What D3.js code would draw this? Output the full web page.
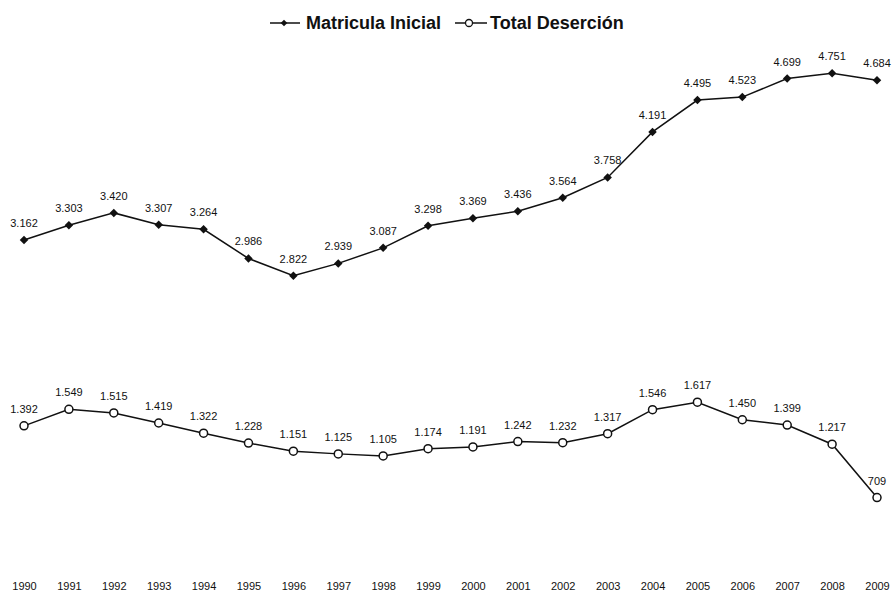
<!DOCTYPE html>
<html><head><meta charset="utf-8">
<script src="https://cdn.jsdelivr.net/npm/d3@7"></script>
<style>html,body{margin:0;padding:0;background:#fff;}svg{display:block;font-family:"Liberation Sans",Arial,sans-serif;}</style>
</head><body>
<svg id="chart" width="893" height="599"></svg>
<script>
const years = ["1990","1991","1992","1993","1994","1995","1996","1997","1998","1999","2000","2001","2002","2003","2004","2005","2006","2007","2008","2009"];
const matricula = [3162,3303,3420,3307,3264,2986,2822,2939,3087,3298,3369,3436,3564,3758,4191,4495,4523,4699,4751,4684];
const desercion = [1392,1549,1515,1419,1322,1228,1151,1125,1105,1174,1191,1242,1232,1317,1546,1617,1450,1399,1217,709];
const seriesNames = ["Matricula Inicial","Total Deserción"];

const svg = d3.select("#chart");
const x = d3.scalePoint().domain(years).range([24, 877]);
const y = d3.scaleLinear().domain([0, 5000]).range([572, 47]);
const fmt = v => d3.format(",")(v).replace(/,/g, ".");

const line = d3.line().x((d,i)=>x(years[i])).y(d=>y(d));
const diamond = d3.symbol(d3.symbolSquare, 36)();

// x axis labels (no axis line)
const xAxis = d3.axisBottom(x).tickSize(0).tickPadding(0);
const gx = svg.append("g").attr("transform","translate(0,582)").call(xAxis);
gx.select(".domain").remove();
gx.selectAll("text").attr("font-size",11).attr("fill","#111").attr("font-family","'Liberation Sans',Arial,sans-serif");

function drawSeries(data, filled){
  svg.append("path").datum(data).attr("d",line).attr("fill","none").attr("stroke","#111").attr("stroke-width",1.5);
  const g = svg.append("g");
  if(filled){
    g.selectAll("path.m").data(data).join("path").attr("class","m")
      .attr("d", diamond)
      .attr("transform",(d,i)=>`translate(${x(years[i])},${y(d)}) rotate(45)`)
      .attr("fill","#111");
  } else {
    g.selectAll("circle").data(data).join("circle")
      .attr("cx",(d,i)=>x(years[i])).attr("cy",d=>y(d)).attr("r",4)
      .attr("fill","#fff").attr("stroke","#111").attr("stroke-width",1.5);
  }
  svg.append("g").selectAll("text").data(data).join("text")
    .attr("x",(d,i)=>x(years[i])).attr("y",d=>y(d)-13)
    .attr("text-anchor","middle").attr("font-size",11).attr("fill","#111")
    .text(d=>fmt(d));
}
drawSeries(matricula, true);
drawSeries(desercion, false);

// legend
const lg = svg.append("g");
lg.append("line").attr("x1",270).attr("x2",300).attr("y1",23).attr("y2",23).attr("stroke","#111").attr("stroke-width",1.5);
lg.append("path").attr("d",d3.symbol(d3.symbolSquare,22)()).attr("transform","translate(284,23) rotate(45)").attr("fill","#111");
lg.append("text").attr("x",306).attr("y",29).attr("font-size",18).attr("font-weight","bold").attr("fill","#111").text(seriesNames[0]);
lg.append("line").attr("x1",455).attr("x2",487).attr("y1",23).attr("y2",23).attr("stroke","#111").attr("stroke-width",1.5);
lg.append("circle").attr("cx",469).attr("cy",23).attr("r",3.5).attr("fill","#fff").attr("stroke","#111").attr("stroke-width",1.3);
lg.append("text").attr("x",490).attr("y",29).attr("font-size",18).attr("font-weight","bold").attr("fill","#111").text(seriesNames[1]);
</script>
</body></html>
